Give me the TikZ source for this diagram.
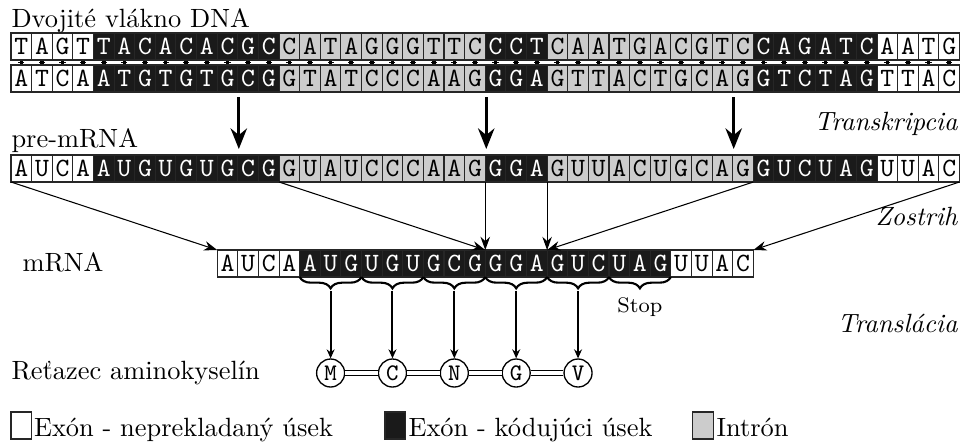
\documentclass[tikz,border=0pt]{standalone}
\usepackage{fontspec}
\usetikzlibrary{arrows.meta,decorations.pathreplacing}
\definecolor{cellblack}{HTML}{1A1A1A}
\definecolor{cellgray}{HTML}{CCCCCC}
\def\U{0.3788pt}
\newcommand\mycw{\def\myfc{white}\def\mytc{black}}
\newcommand\mycb{\def\myfc{cellblack}\def\mytc{white}}
\newcommand\mycg{\def\myfc{cellgray}\def\mytc{black}}
\newcommand\mycolsL[1]{\ifnum#1<4 \mycw\else\ifnum#1<13 \mycb\else\ifnum#1<23 \mycg\else\ifnum#1<26 \mycb\else\ifnum#1<36 \mycg\else\ifnum#1<42 \mycb\else\mycw\fi\fi\fi\fi\fi\fi}
\newcommand\mycolsM[1]{\ifnum#1<4 \mycw\else\ifnum#1<22 \mycb\else\mycw\fi\fi}
\begin{document}
\begin{tikzpicture}[x=\U,y=-\U,
  cellbox/.style={draw=black!85, line width=0.4pt, minimum width=20.62*\U, minimum height=27*\U, inner sep=0pt, outer sep=0pt, font=\ttfamily, anchor=north west},
  bigarrow/.style={line width=1.15pt, -{Stealth[length=7.8pt,width=6.2pt]}},
  splice/.style={line width=0.4pt, -{Stealth[length=5pt,width=3.6pt]}},
  transarrow/.style={line width=0.75pt, -{Stealth[length=3.4pt,width=3pt]}},
  bracestyle/.style={line width=0.8pt, decorate, decoration={brace, mirror, amplitude=4.3pt}},
  aacircle/.style={circle, draw, line width=0.5pt, minimum size=28*\U, inner sep=0pt, font=\ttfamily\small},
  bond/.style={line width=0.45pt, double=white, double distance=1.7pt},
  lbl/.style={anchor=base west, inner sep=0pt},
  rlbl/.style={anchor=base east, inner sep=0pt, font=\itshape}]
\fill[white] (0,0) rectangle (964,445);
\useasboundingbox (0,0) rectangle (964,445);
% DNA top strand
\foreach \l [count=\i from 0] in {T,A,G,T,T,A,C,A,C,A,C,G,C,C,A,T,A,G,G,G,T,T,C,C,C,T,C,A,A,T,G,A,C,G,T,C,C,A,G,A,T,C,A,A,T,G}{
  \mycolsL{\i}\node[cellbox,fill=\myfc,text=\mytc] (d1-\i) at ({11+\i*20.62},33) {\l};}
% DNA bottom strand
\foreach \l [count=\i from 0] in {A,T,C,A,A,T,G,T,G,T,G,C,G,G,T,A,T,C,C,C,A,A,G,G,G,A,G,T,T,A,C,T,G,C,A,G,G,T,C,T,A,G,T,T,A,C}{
  \mycolsL{\i}\node[cellbox,fill=\myfc,text=\mytc] (d2-\i) at ({11+\i*20.62},65) {\l};}
% hydrogen bonds
\draw[line width=0.5pt] (11,62.7) -- (959,62.7);
\draw[white,line width=0.2pt,dash pattern=on 5.5pt off 2.31pt,dash phase=2.75pt] (11,62.7) -- (959,62.7);
\foreach \i in {0,...,45}{\fill ({11+(\i+0.5)*20.62-1.8},61) rectangle ({11+(\i+0.5)*20.62+1.8},64.4);}
% pre-mRNA
\foreach \l [count=\i from 0] in {A,U,C,A,A,U,G,U,G,U,G,C,G,G,U,A,U,C,C,C,A,A,G,G,G,A,G,U,U,A,C,U,G,C,A,G,G,U,C,U,A,G,U,U,A,C}{
  \mycolsL{\i}\node[cellbox,fill=\myfc,text=\mytc] (p-\i) at ({11+\i*20.62},155) {\l};}
% mRNA
\foreach \l [count=\i from 0] in {A,U,C,A,A,U,G,U,G,U,G,C,G,G,G,A,G,U,C,U,A,G,U,U,A,C}{
  \mycolsM{\i}\node[cellbox,fill=\myfc,text=\mytc] (m-\i) at ({11+(10+\i)*20.62},250) {\l};}
% transcription arrows
\foreach \k [count=\j] in {11,23,35}{
  \coordinate (ts\j) at ({11+\k*20.62+1},97);
  \coordinate (te\j) at ({11+\k*20.62+1},149);
  \draw[bigarrow] (ts\j) -- (te\j);}
% splicing
\draw[splice] (p-0.south west) -- (m-0.north west);
\draw[splice] (p-13.south west) -- (m-13.north west);
\draw[splice] (p-23.south west) -- (m-13.north west);
\draw[splice] (p-26.south west) -- (m-16.north west);
\draw[splice] (p-36.south west) -- (m-16.north west);
\draw[splice] (p-45.south east) -- (m-25.north east);
% codon braces
\foreach \k [count=\j] in {4,7,10,13,16,19}{
  \pgfmathtruncatemacro\kk{\k+2}
  \draw[bracestyle] (m-\k.south west) -- (m-\kk.south east);
  \coordinate (bt\j) at ({11+(10+\k+1.5)*20.62},291);}
\node[font=\footnotesize, anchor=base, inner sep=0pt] (stop) at ({11+30.5*20.62},312) {Stop};
% amino acids
\foreach \a [count=\j] in {M,C,N,G,V}{
  \node[aacircle] (aa\j) at ({11+(3*\j+12.5)*20.62},373) {\a};
  \draw[transarrow] (bt\j) -- (aa\j);}
\foreach \j in {1,...,4}{\pgfmathtruncatemacro\jj{\j+1}\draw[bond] (aa\j) -- (aa\jj);}
% labels
\node[lbl] (lbldna) at (11,27) {Dvojité vlákno DNA};
\node[lbl] (lblpre) at (11,147) {pre-mRNA};
\node[lbl] (lblm) at (22,271) {mRNA};
\node[lbl] (lblaa) at (11,379) {Reťazec aminokyselín};
\node[rlbl] (lbltr) at (958,130) {Transkripcia};
\node[rlbl] (lblzo) at (958,225) {Zostrih};
\node[rlbl] (lbltl) at (958,332) {Translácia};
% legend
\node[cellbox,fill=white] (lg1) at (11,412) {};
\node[lbl] (lt1) at (33.5,436) {Exón - neprekladaný úsek};
\node[cellbox,fill=cellblack] (lg2) at (385,412) {};
\node[lbl] (lt2) at (408,436) {Exón - kódujúci úsek};
\node[cellbox,fill=cellgray] (lg3) at (692.7,412) {};
\node[lbl] (lt3) at (716,436) {Intrón};
\end{tikzpicture}
\end{document}
